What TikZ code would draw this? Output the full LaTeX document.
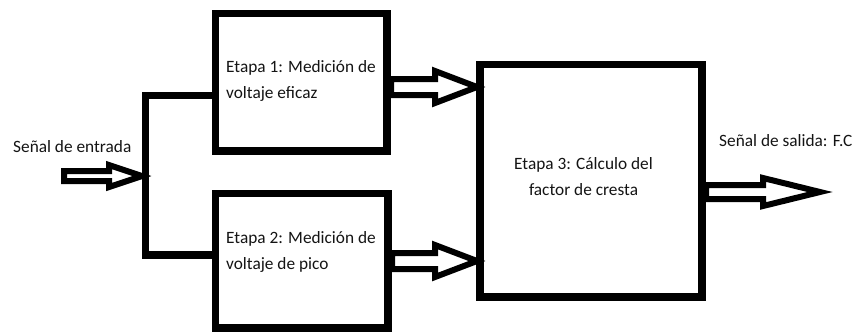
\documentclass[tikz,border=0pt]{standalone}
\usepackage{fontspec}
\setmainfont{Carlito}
\newcommand\hollowarrow[5]{% start, shaft length, head length, shaft half, head half
  \draw[hollow] (#1) ++(0,-#4) -- ++(#2,0) -- ++(0,#4-#5) -- ++(#3,#5) -- ++(-#3,#5) -- ++(0,#4-#5) -- ++(-#2,0) -- cycle;}
\begin{document}
\begin{tikzpicture}[x=1pt,y=-1pt,
  blk/.style={draw=black,line width=7.5pt,fill=white,inner sep=0pt},
  wire/.style={draw=black,line width=7.5pt},
  hollow/.style={draw=black,line width=6pt,fill=white,line join=miter,miter limit=10},
  lbl/.style={inner sep=0pt,text=black!92,font=\fontsize{17.3}{26}\selectfont}]
\useasboundingbox (0,0) rectangle (857,333);
% boxes
\node[blk,minimum width=171.5pt,minimum height=137.5pt] (b1) at (301.25,82.25) {};
\node[blk,minimum width=172.5pt,minimum height=134.5pt] (b2) at (301.75,260.75) {};
\node[blk,minimum width=222pt,minimum height=232.5pt] (b3) at (591,180.75) {};
\node[lbl,align=left] (t1) at (301,81) {Etapa 1: Medición de\\voltaje eficaz};
\node[lbl,align=left] (t2) at (301,252) {Etapa 2: Medición de\\voltaje de pico};
\node[lbl,align=center] (t3) at (583.5,177) {Etapa 3: Cálculo del\\factor de cresta};
% splitter lines
\coordinate (j) at (145.5,176);
\draw[wire,line cap=rect] ([yshift=-13pt]b1.west) -| (j) |- ([yshift=6pt]b2.west);
% hollow arrows
\coordinate (in) at (64,176);
\hollowarrow{in}{45}{33}{5}{11}
\coordinate (a1) at (391,87);
\hollowarrow{a1}{44}{42}{8}{16}
\coordinate (a2) at (392,261);
\hollowarrow{a2}{43}{42}{8}{16}
\coordinate (a3) at (706,192);
\hollowarrow{a3}{57}{57}{7}{14}
% texts
\node[lbl,anchor=base west] (tin) at (13,152) {Señal de entrada};
\node[lbl,anchor=base west] (tout) at (719,146) {Señal de salida: F.C};
\end{tikzpicture}
\end{document}
